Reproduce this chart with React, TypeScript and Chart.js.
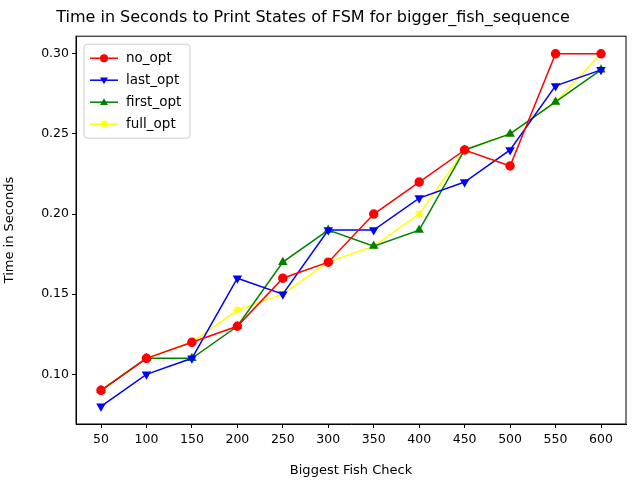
import React, { useEffect, useRef } from 'react';
import { Chart, registerables } from 'chart.js';
Chart.register(...registerables);

const checks = [50, 100, 150, 200, 250, 300, 350, 400, 450, 500, 550, 600];
const noOpt = [0.09, 0.11, 0.12, 0.13, 0.16, 0.17, 0.2, 0.22, 0.24, 0.23, 0.3, 0.3];
const lastOpt = [0.08, 0.1, 0.11, 0.16, 0.15, 0.19, 0.19, 0.21, 0.22, 0.24, 0.28, 0.29];
const firstOpt = [0.09, 0.11, 0.11, 0.13, 0.17, 0.19, 0.18, 0.19, 0.24, 0.25, 0.27, 0.29];
const fullOpt = [0.09, 0.11, 0.12, 0.14, 0.15, 0.17, 0.18, 0.2, 0.24, 0.25, 0.27, 0.3];
const yTicks = [0.1, 0.15, 0.2, 0.25, 0.3];

const FONT = 'DejaVu Sans';

// simple legend marker, drawn by hand
function marker(ctx: CanvasRenderingContext2D, style: string, rot: number, x: number, y: number, r: number) {
  ctx.beginPath();
  if (style === 'circle') {
    ctx.arc(x, y, r, 0, Math.PI * 2);
    ctx.fill();
  } else if (style === 'triangle') {
    const s = rot ? -1 : 1;
    ctx.moveTo(x, y - s * r);
    ctx.lineTo(x - r, y + s * r * 0.7);
    ctx.lineTo(x + r, y + s * r * 0.7);
    ctx.closePath();
    ctx.fill();
  } else {
    for (let i = 0; i < 4; i++) {
      const a = (i * Math.PI) / 4;
      ctx.moveTo(x - r * Math.cos(a), y - r * Math.sin(a));
      ctx.lineTo(x + r * Math.cos(a), y + r * Math.sin(a));
    }
    ctx.stroke();
  }
}

// frame + legend inside the plot, matplotlib style
const framePlugin = {
  id: 'frame',
  afterDraw(chart: any) {
    const { ctx, chartArea: a } = chart;
    ctx.save();
    ctx.strokeStyle = '#000';
    ctx.lineWidth = 1;
    ctx.strokeRect(a.left, a.top, a.right - a.left, a.bottom - a.top);
    const x0 = a.left + 8, y0 = a.top + 8, rowH = 22;
    const sets = chart.data.datasets;
    ctx.fillStyle = 'rgba(255,255,255,0.8)';
    ctx.strokeStyle = '#ccc';
    ctx.beginPath();
    ctx.roundRect(x0, y0, 106, sets.length * rowH + 6, 3);
    ctx.fill();
    ctx.stroke();
    ctx.font = `13.5px ${FONT}`;
    ctx.textBaseline = 'middle';
    sets.forEach((d: any, i: number) => {
      const cy = y0 + 14 + i * rowH;
      ctx.strokeStyle = d.borderColor;
      ctx.fillStyle = d.borderColor;
      ctx.lineWidth = 1.5;
      ctx.beginPath();
      ctx.moveTo(x0 + 6, cy);
      ctx.lineTo(x0 + 34, cy);
      ctx.stroke();
      marker(ctx, d.pointStyle, d.rotation || 0, x0 + 20, cy, 4);
      ctx.fillStyle = '#000';
      ctx.fillText(d.label, x0 + 42, cy);
    });
    ctx.restore();
  },
};

const mk = (label: string, vals: number[], color: string, style: string, rotation = 0) => ({
  label,
  data: vals.map((v, i) => ({ x: checks[i], y: v })),
  borderColor: color,
  backgroundColor: color,
  pointBackgroundColor: color,
  pointBorderColor: color,
  pointStyle: style,
  rotation,
  pointRadius: 4,
  borderWidth: 1.5,
});

const App: React.FC = () => {
  const ref = useRef<HTMLCanvasElement | null>(null);
  useEffect(() => {
    if (!ref.current) return;
    const chart = new Chart(ref.current, {
      type: 'line',
      data: {
        datasets: [
          mk('no_opt', noOpt, 'red', 'circle'),
          mk('last_opt', lastOpt, 'blue', 'triangle', 180),
          mk('first_opt', firstOpt, 'green', 'triangle'),
          mk('full_opt', fullOpt, 'yellow', 'star'),
        ] as any,
      },
      options: {
        animation: false,
        responsive: false,
        layout: { padding: { right: 14 } },
        plugins: {
          legend: { display: false },
          tooltip: { enabled: false },
          title: {
            display: true,
            text: 'Time in Seconds to Print States of FSM for bigger_fish_sequence',
            color: '#000',
            font: { family: FONT, size: 16, weight: 'normal' },
            padding: { top: 8, bottom: 9 },
          },
        },
        scales: {
          x: {
            type: 'linear',
            min: 22.5,
            max: 627.5,
            afterBuildTicks: (s: any) => { s.ticks = checks.map((v) => ({ value: v })); },
            afterFit: (s: any) => { s.height = 56; },
            grid: { drawOnChartArea: false, drawTicks: true, tickLength: 4, color: '#000' },
            border: { color: '#000' },
            ticks: { color: '#000', font: { family: FONT, size: 12.5 }, maxRotation: 0, padding: 4 },
            title: { display: true, text: 'Biggest Fish Check', color: '#000', font: { family: FONT, size: 13 }, padding: 2 },
          },
          y: {
            min: 0.069,
            max: 0.311,
            afterBuildTicks: (s: any) => { s.ticks = yTicks.map((v) => ({ value: v })); },
            afterFit: (s: any) => { s.width = 76; },
            grid: { drawOnChartArea: false, drawTicks: true, tickLength: 4, color: '#000' },
            border: { color: '#000' },
            ticks: { color: '#000', font: { family: FONT, size: 12.5 }, callback: (v: any) => Number(v).toFixed(2) },
            title: { display: true, text: 'Time in Seconds', color: '#000', font: { family: FONT, size: 13 }, padding: 2 },
          },
        },
      },
      plugins: [framePlugin],
    });
    return () => chart.destroy();
  }, []);
  return (
    <div style={{ position: 'absolute', left: 0, top: 0, width: 640, height: 480, background: '#fff' }}>
      <canvas ref={ref} width={640} height={480} />
    </div>
  );
};

export default App;
